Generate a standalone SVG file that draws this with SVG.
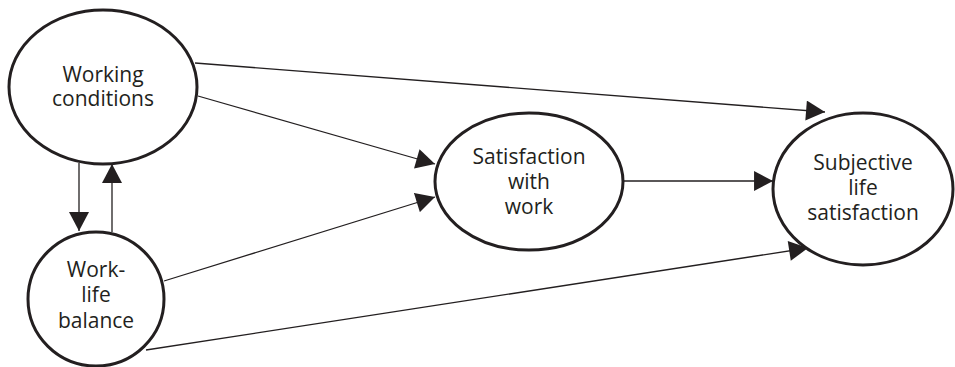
<svg xmlns="http://www.w3.org/2000/svg" width="955" height="367" viewBox="0 0 955 367">
<defs>
<marker id="ah" markerUnits="userSpaceOnUse" markerWidth="20" markerHeight="20" viewBox="0 0 18 19" refX="18" refY="9.5" orient="auto">
<path d="M0,0 L18,9.5 L0,19 Z" fill="#231f20"/>
</marker>
<style>
.node ellipse{fill:#fff;stroke:#231f20;stroke-width:3}
.node text{font-family:"Open Sans","Liberation Sans",sans-serif;font-size:21px;fill:#231f20;text-anchor:middle}
.edges line{stroke:#231f20;stroke-width:1.3;marker-end:url(#ah)}
</style>
</defs>
<rect width="955" height="367" fill="#fff"/>
<g class="edges" id="connectors">
<line x1="195" y1="63" x2="825" y2="112"/>
<line x1="198" y1="96" x2="435" y2="164"/>
<line x1="164" y1="281" x2="435" y2="197"/>
<line x1="146" y1="350" x2="808" y2="248"/>
<line x1="623" y1="181" x2="773" y2="181"/>
<line x1="79" y1="163" x2="79" y2="231"/>
<line x1="112" y1="232" x2="112" y2="164"/>
</g>
<g class="node" id="working-conditions">
<ellipse cx="103" cy="87" rx="94" ry="77"/>
<text x="103" y="82">Working</text>
<text x="103" y="106">conditions</text>
</g>
<g class="node" id="work-life-balance">
<ellipse cx="96" cy="299" rx="68" ry="67"/>
<text x="96" y="277">Work-</text>
<text x="96" y="302">life</text>
<text x="96" y="328">balance</text>
</g>
<g class="node" id="satisfaction-with-work">
<ellipse cx="529" cy="181.5" rx="94" ry="68.5"/>
<text x="529" y="164">Satisfaction</text>
<text x="529" y="189">with</text>
<text x="529" y="214">work</text>
</g>
<g class="node" id="subjective-life-satisfaction">
<ellipse cx="863" cy="189" rx="90" ry="76"/>
<text x="863" y="170">Subjective</text>
<text x="863" y="195">life</text>
<text x="863" y="220">satisfaction</text>
</g>
</svg>
